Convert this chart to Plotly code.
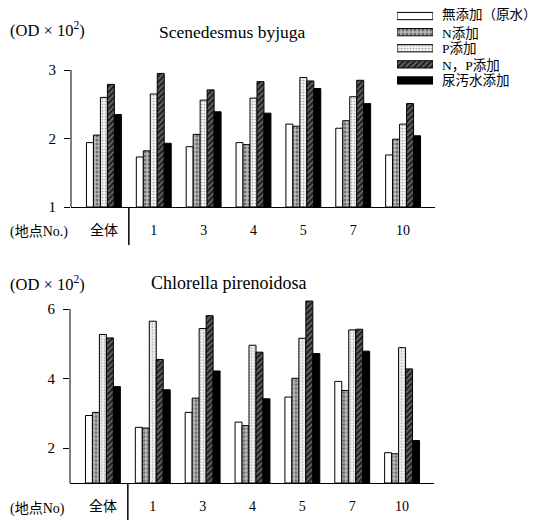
import plotly.graph_objects as go

sites = ["全体", "1", "3", "4", "5", "7", "10"]
series_names = ["無添加（原水）", "N添加", "P添加", "N，P添加", "尿汚水添加"]

sc_none = [1.94, 1.73, 1.88, 1.94, 2.21, 2.15, 1.76]
sc_n = [2.05, 1.82, 2.06, 1.91, 2.18, 2.26, 1.99]
sc_p = [2.60, 2.65, 2.56, 2.59, 2.89, 2.61, 2.21]
sc_np = [2.79, 2.95, 2.71, 2.83, 2.84, 2.85, 2.51]
sc_urine = [2.35, 1.93, 2.39, 2.37, 2.73, 2.51, 2.04]

ch_none = [2.94, 2.60, 3.03, 2.75, 3.47, 3.92, 1.87]
ch_n = [3.03, 2.58, 3.44, 2.65, 4.01, 3.66, 1.84]
ch_p = [5.27, 5.65, 5.44, 4.96, 5.16, 5.40, 4.89]
ch_np = [5.17, 4.55, 5.81, 4.76, 6.23, 5.42, 4.28]
ch_urine = [3.77, 3.68, 4.22, 3.42, 4.72, 4.79, 2.22]

top_ticks = [1, 2, 3]
bottom_ticks = [2, 4, 6]

W, H = 542, 523
OFF = 8  # page body margin in the browser

styles = [
    dict(color="white", pattern=dict(shape="")),
    dict(color="white", pattern=dict(shape=".", fgcolor="#222", bgcolor="#bbb", size=4, solidity=0.45)),
    dict(color="white", pattern=dict(shape=".", fgcolor="#555", bgcolor="#f2f2f2", size=3, solidity=0.25)),
    dict(color="white", pattern=dict(shape="/", fgcolor="#ddd", bgcolor="#222", size=4, solidity=0.3)),
    dict(color="black", pattern=dict(shape="")),
]


def marker_for(i):
    st = styles[i]
    return dict(color=st["color"], pattern=st["pattern"], line=dict(color="black", width=1))


fig = go.Figure()
top_sets = [sc_none, sc_n, sc_p, sc_np, sc_urine]
bot_sets = [ch_none, ch_n, ch_p, ch_np, ch_urine]
for i, name in enumerate(series_names):
    fig.add_trace(go.Bar(
        x=sites, y=[v - 1 for v in top_sets[i]], base=1, name=name,
        marker=marker_for(i), xaxis="x", yaxis="y", showlegend=False, cliponaxis=False,
    ))
for i, name in enumerate(series_names):
    fig.add_trace(go.Bar(
        x=sites, y=[v - 1 for v in bot_sets[i]], base=1, name=name,
        marker=marker_for(i), xaxis="x2", yaxis="y2", showlegend=False, cliponaxis=False,
    ))

# legend swatches drawn as one-unit horizontal bars on their own small axes
for i, name in enumerate(series_names):
    fig.add_trace(go.Bar(
        x=[1], y=[name], orientation="h", width=0.45, offset=-0.225,
        marker=marker_for(i), xaxis="x3", yaxis="y3", showlegend=False, hoverinfo="skip",
    ))

# empty traces so the label-only overlay axes are drawn
fig.add_trace(go.Scatter(x=[], y=[], xaxis="x", yaxis="y4", showlegend=False, hoverinfo="skip"))
fig.add_trace(go.Scatter(x=[], y=[], xaxis="x2", yaxis="y5", showlegend=False, hoverinfo="skip"))


def px_x(p):
    return min(1.0, max(0.0, (p - OFF) / W))


def px_y(p):
    return 1 - (p - OFF) / H


def dom_y(p):
    return min(1.0, max(0.0, px_y(p)))


serif = "Liberation Serif, Noto Sans CJK JP, serif"
xr = [-0.66, 6.64]
xaxis_common = dict(type="category", range=xr, showline=True, linecolor="black", linewidth=1,
                    ticks="", showgrid=False, zeroline=False, automargin=False,
                    tickfont=dict(family=serif, size=14, color="black"), ticklabelstandoff=10)
# tick marks at the axis
yaxis_common = dict(showline=False, ticks="outside", ticklen=6, automargin=False,
                    tickcolor="black", showgrid=False, zeroline=False, showticklabels=False)
# tick labels placed a little further left, as in the original
ylab_common = dict(showline=False, ticks="", automargin=False, showgrid=False, zeroline=False,
                   anchor="free", tickfont=dict(family=serif, size=15, color="black"))

top_dom = [dom_y(207), dom_y(70)]
bot_dom = [dom_y(483), dom_y(298.6)]

fig.update_layout(
    width=W, height=H,
    margin=dict(l=0, r=0, t=0, b=0, autoexpand=False),
    paper_bgcolor="white", plot_bgcolor="white",
    barmode="group", bargap=0.3, bargroupgap=0,
    xaxis=dict(domain=[px_x(71), px_x(435)], anchor="y", **xaxis_common),
    yaxis=dict(domain=top_dom, anchor="x", range=[1, 3], tickvals=top_ticks, **yaxis_common),
    yaxis4=dict(domain=top_dom, overlaying="y", position=px_x(56), range=[1, 3], tickvals=top_ticks, **ylab_common),
    xaxis2=dict(domain=[px_x(70), px_x(434)], anchor="y2", **xaxis_common),
    yaxis2=dict(domain=bot_dom, anchor="x2", range=[1, 6.3], tickvals=bottom_ticks, **yaxis_common),
    yaxis5=dict(domain=bot_dom, overlaying="y2", position=px_x(55), range=[1, 6.3], tickvals=bottom_ticks, **ylab_common),
    xaxis3=dict(domain=[px_x(397), px_x(433)], anchor="y3", range=[0, 1], visible=False, fixedrange=True),
    yaxis3=dict(domain=[dom_y(88.5), dom_y(8)], anchor="x3", type="category", autorange="reversed",
                categoryorder="array", categoryarray=series_names, visible=False, fixedrange=True),
    showlegend=False,
)

annotations = [
    dict(text="(OD × 10<sup>2</sup>)", x=px_x(5), y=px_y(30), xanchor="left", yanchor="middle", size=16.5),
    dict(text="Scenedesmus byjuga", x=px_x(232), y=px_y(32), xanchor="center", yanchor="middle", size=17.5),
    dict(text="(地点No.)", x=px_x(3), y=px_y(232), xanchor="left", yanchor="middle", size=14),
    dict(text="(OD × 10<sup>2</sup>)", x=px_x(5), y=px_y(283), xanchor="left", yanchor="middle", size=16.5),
    dict(text="Chlorella pirenoidosa", x=px_x(228), y=px_y(283), xanchor="center", yanchor="middle", size=18),
    dict(text="(地点No)", x=px_x(3), y=px_y(509), xanchor="left", yanchor="middle", size=14),
]
leg_rows = [15, 33, 49, 65, 80]
for name, yy in zip(series_names, leg_rows):
    annotations.append(dict(text=name, x=px_x(440), y=px_y(yy), xanchor="left", yanchor="middle", size=13.5))

anns = []
for a in annotations:
    size = a.pop("size")
    a.update(xref="paper", yref="paper", showarrow=False,
             font=dict(family=serif, size=size, color="black"))
    anns.append(a)
fig.update_layout(annotations=anns)

# y axis lines (ending at the top tick)
fig.add_shape(type="line", xref="x domain", yref="y", x0=0, x1=0, y0=1, y1=3,
              line=dict(color="black", width=1))
fig.add_shape(type="line", xref="x2 domain", yref="y2", x0=0, x1=0, y0=1, y1=6,
              line=dict(color="black", width=1))
# separators between 全体 and site 1
fig.add_shape(type="line", xref="x", yref="paper", x0=0.5, x1=0.5, y0=px_y(207), y1=px_y(245),
              line=dict(color="black", width=1.5))
fig.add_shape(type="line", xref="x2", yref="paper", x0=0.5, x1=0.5, y0=px_y(483), y1=px_y(520),
              line=dict(color="black", width=1.5))

fig.write_html("out.html")
